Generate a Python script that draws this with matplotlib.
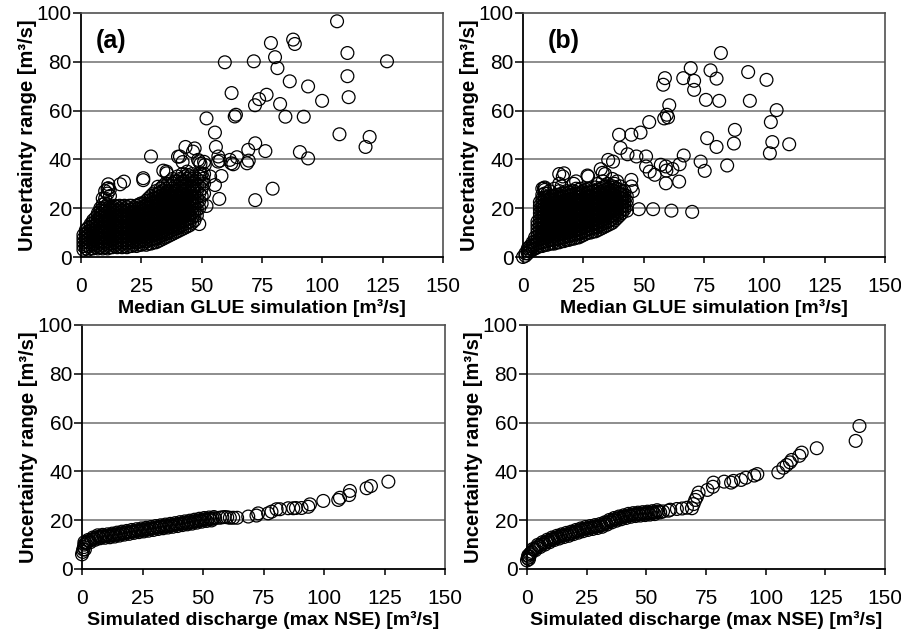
#!/usr/bin/env python3
"""Uncertainty range vs. discharge, 2x2 scatter panels (a) and (b)."""

import matplotlib
matplotlib.use('Agg')
import matplotlib.pyplot as plt

plt.rcParams['font.family'] = ['Liberation Sans', 'DejaVu Sans']

# ---- panel (a), top: median GLUE simulation vs uncertainty range ----
# dense cloud, one list of y values per x column (x = 1, 2, ..., 51)
a_cloud_x = list(range(1, 52))
a_cloud_y = [
    [3, 4.5, 6, 7.5, 9],
    [3.5, 5, 6.5, 8, 9.5, 11],
    [3, 4.5, 6, 7.5, 9, 10.5, 12],
    [3.5, 5, 6.5, 8, 9.5, 11, 12.5, 13.5],
    [3.5, 5, 6.5, 8, 9.5, 11, 12.5, 14, 15],
    [4, 5.5, 7, 8.5, 10, 11.5, 13, 14.5, 16],
    [3.5, 5, 6.5, 8, 9.5, 11, 12.5, 14, 15.5, 17, 18],
    [4, 5.5, 7, 8.5, 10, 11.5, 13, 14.5, 16, 17.5, 19, 20],
    [3.5, 5, 6.5, 8, 9.5, 11, 12.5, 14, 15.5, 17, 18.5, 20, 21.5, 24],
    [4, 5.5, 7, 8.5, 10, 11.5, 13, 14.5, 16, 17.5, 19, 20.5, 22, 24, 27],
    [3.5, 5, 6.5, 8, 9.5, 11, 12.5, 14, 15.5, 17, 18.5, 20, 21.5, 26, 28],
    [4, 5.5, 7, 8.5, 10, 11.5, 13, 14.5, 16, 17.5, 19, 20.5, 25],
    [4, 5.5, 7, 8.5, 10, 11.5, 13, 14.5, 16, 17.5, 19, 20.5],
    [4.5, 6, 7.5, 9, 10.5, 12, 13.5, 15, 16.5, 18, 19.5, 21],
    [4, 5.5, 7, 8.5, 10, 11.5, 13, 14.5, 16, 17.5, 19, 20.5],
    [4.5, 6, 7.5, 9, 10.5, 12, 13.5, 15, 16.5, 18, 19.5, 21],
    [4, 5.5, 7, 8.5, 10, 11.5, 13, 14.5, 16, 17.5, 19, 20.5],
    [4.5, 6, 7.5, 9, 10.5, 12, 13.5, 15, 16.5, 18, 19.5, 21],
    [4, 5.5, 7, 8.5, 10, 11.5, 13, 14.5, 16, 17.5, 19, 20.5],
    [4.5, 6, 7.5, 9, 10.5, 12, 13.5, 15, 16.5, 18, 19.5, 21],
    [4.5, 6, 7.5, 9, 10.5, 12, 13.5, 15, 16.5, 18, 19.5, 21],
    [5, 6.5, 8, 9.5, 11, 12.5, 14, 15.5, 17, 18.5, 20],
    [4.5, 6, 7.5, 9, 10.5, 12, 13.5, 15, 16.5, 18, 19.5, 21],
    [5, 6.5, 8, 9.5, 11, 12.5, 14, 15.5, 17, 18.5, 20, 21.5],
    [5, 6.5, 8, 9.5, 11, 12.5, 14, 15.5, 17, 18.5, 20, 22],
    [5.5, 7, 8.5, 10, 11.5, 13, 14.5, 16, 17.5, 19, 20.5, 22],
    [5, 6.5, 8, 9.5, 11, 12.5, 14, 15.5, 17, 18.5, 20, 21.5, 23],
    [5.5, 7, 8.5, 10, 11.5, 13, 14.5, 16, 17.5, 19, 20.5, 22, 24],
    [5.5, 7, 8.5, 10, 11.5, 13, 14.5, 16, 17.5, 19, 20.5, 22, 23.5, 25],
    [6, 7.5, 9, 10.5, 12, 13.5, 15, 16.5, 18, 19.5, 21, 22.5, 24, 26],
    [6, 7.5, 9, 10.5, 12, 13.5, 15, 16.5, 18, 19.5, 21, 22.5, 24, 25.5, 27],
    [6.5, 8, 9.5, 11, 12.5, 14, 15.5, 17, 18.5, 20, 21.5, 23, 24.5, 26],
    [7, 8.5, 10, 11.5, 13, 14.5, 16, 17.5, 19, 20.5, 22, 23.5, 25, 26.5, 28],
    [7.5, 9, 10.5, 12, 13.5, 15, 16.5, 18, 19.5, 21, 22.5, 24, 25.5, 27, 29],
    [8, 9.5, 11, 12.5, 14, 15.5, 17, 18.5, 20, 21.5, 23, 24.5, 26, 28, 30],
    [8.5, 10, 11.5, 13, 14.5, 16, 17.5, 19, 20.5, 22, 23.5, 25, 27, 30],
    [9, 10.5, 12, 13.5, 15, 16.5, 18, 19.5, 21, 22.5, 24, 25.5, 27, 29, 31],
    [9.5, 11, 12.5, 14, 15.5, 17, 18.5, 20, 21.5, 23, 24.5, 26, 28, 30, 32],
    [10, 11.5, 13, 14.5, 16, 17.5, 19, 20.5, 22, 23.5, 25, 27, 29, 31],
    [10.5, 12, 13.5, 15, 16.5, 18, 19.5, 21, 22.5, 24, 25.5, 27, 29, 31, 33],
    [11, 12.5, 14, 15.5, 17, 18.5, 20, 21.5, 23, 24.5, 26, 28, 30, 32],
    [11.5, 13, 14.5, 16, 17.5, 19, 20.5, 22, 23.5, 25, 27, 29, 31, 34],
    [12, 13.5, 15, 16.5, 18, 19.5, 21, 22.5, 24, 25.5, 27, 29, 31, 33],
    [12.5, 14, 15.5, 17, 18.5, 20, 21.5, 23, 24.5, 26, 28, 30, 32, 35],
    [13, 14.5, 16, 17.5, 19, 20.5, 22, 23.5, 25, 27, 29, 31, 33],
    [14, 16, 18, 20, 22, 24, 26, 28, 30, 32, 34],
    [15, 17, 19, 21, 23, 25, 27, 29, 31, 33],
    [17, 19.5, 22, 24.5, 27, 29.5, 32],
    [20, 23, 26, 29, 33],
    [22, 25, 28, 31, 34],
    [26, 30, 34],
]
# scattered points outside the cloud
a_out_x = [106.1, 126.8, 110.4, 110.4, 110.9, 107.1, 119.6, 117.9, 90.7, 94.1,
           99.9, 94.1, 92.3, 86.5, 84.7, 82.5, 81.4, 80.4, 78.7, 87.9, 88.6,
           71.6, 59.6, 62.4, 63.7, 64.2, 73.8, 76.9, 72.1, 72.2, 69.3, 76.4,
           68.8, 79.4, 72.2, 52.0, 55.5, 55.9, 43.3, 29.0, 61.7, 63.1, 64.6,
           51.0, 49.5, 49.0, 57.3, 52.0, 49.0, 41.0, 42.1, 56.9, 57.6, 58.2,
           55.5, 49.3, 50.7, 17.8, 16.2, 25.8, 25.8, 34.1, 35.5, 11.3, 11.3,
           11.9, 35.4, 31.9, 40.2, 47.1, 46.4, 56.8, 62.3, 48.5, 51.3, 44.3,
           69.5, 53.5]
a_out_y = [96.6, 80.2, 83.6, 74.1, 65.5, 50.3, 49.2, 45.1, 43.0, 40.4,
           64.0, 69.9, 57.5, 72.0, 57.5, 62.7, 77.4, 81.9, 87.7, 89.1, 87.3,
           80.2, 79.8, 67.2, 57.6, 58.3, 64.7, 66.5, 62.2, 46.6, 43.9, 43.4,
           38.4, 28.0, 23.3, 56.8, 51.0, 45.1, 45.1, 41.2, 39.8, 38.0, 40.9,
           39.0, 38.2, 39.2, 23.8, 20.9, 13.5, 41.2, 38.9, 41.2, 39.5, 33.2,
           29.5, 34.3, 32.1, 30.9, 29.8, 32.3, 31.5, 35.4, 34.3, 29.8, 28.2,
           27.5, 35.0, 28.8, 41.1, 44.5, 43.2, 39.1, 38.4, 39.8, 37.7, 33.6,
           39.5, 33.0]

# ---- panel (b), top ----
b_cloud_x = list(range(0, 44))
b_cloud_y = [
    [0],
    [0.5, 1.5],
    [1.5, 2.5, 3.5],
    [2.5, 3.5, 4.5],
    [3, 4, 5, 6],
    [3.5, 5, 6.5, 8],
    [4, 5.5, 7, 8.5, 10, 11.5, 13, 14.5],
    [4.5, 6, 7.5, 9, 10.5, 12, 13.5, 15, 16.5, 18, 19.5, 21, 22.5],
    [4.5, 6, 7.5, 9, 10.5, 12, 13.5, 15, 16.5, 18, 19.5, 21, 22.5, 24, 25.5, 28],
    [5, 6.5, 8, 9.5, 11, 12.5, 14, 15.5, 17, 18.5, 20, 21.5, 23, 24.5, 26, 28.5],
    [5, 6.5, 8, 9.5, 11, 12.5, 14, 15.5, 17, 18.5, 20, 21.5, 23, 24.5, 26],
    [5.5, 7, 8.5, 10, 11.5, 13, 14.5, 16, 17.5, 19, 20.5, 22, 23.5, 25, 27],
    [5.5, 7, 8.5, 10, 11.5, 13, 14.5, 16, 17.5, 19, 20.5, 22, 23.5, 25],
    [5.5, 7, 8.5, 10, 11.5, 13, 14.5, 16, 17.5, 19, 20.5, 22, 23.5, 25, 28],
    [6, 7.5, 9, 10.5, 12, 13.5, 15, 16.5, 18, 19.5, 21, 22.5, 24, 25.5],
    [6, 7.5, 9, 10.5, 12, 13.5, 15, 16.5, 18, 19.5, 21, 22.5, 24, 25.5, 27, 30, 34],
    [6.5, 8, 9.5, 11, 12.5, 14, 15.5, 17, 18.5, 20, 21.5, 23, 24.5, 26, 29],
    [6.5, 8, 9.5, 11, 12.5, 14, 15.5, 17, 18.5, 20, 21.5, 23, 24.5, 26],
    [7, 8.5, 10, 11.5, 13, 14.5, 16, 17.5, 19, 20.5, 22, 23.5, 25, 27],
    [7, 8.5, 10, 11.5, 13, 14.5, 16, 17.5, 19, 20.5, 22, 23.5, 25, 26.5],
    [7.5, 9, 10.5, 12, 13.5, 15, 16.5, 18, 19.5, 21, 22.5, 24, 25.5, 27],
    [7.5, 9, 10.5, 12, 13.5, 15, 16.5, 18, 19.5, 21, 22.5, 24, 25.5, 27, 30],
    [8, 9.5, 11, 12.5, 14, 15.5, 17, 18.5, 20, 21.5, 23, 24.5, 26, 28, 31],
    [8, 9.5, 11, 12.5, 14, 15.5, 17, 18.5, 20, 21.5, 23, 24.5, 26, 27.5],
    [8.5, 10, 11.5, 13, 14.5, 16, 17.5, 19, 20.5, 22, 23.5, 25, 26.5, 28],
    [9, 10.5, 12, 13.5, 15, 16.5, 18, 19.5, 21, 22.5, 24, 25.5, 27],
    [9.5, 11, 12.5, 14, 15.5, 17, 18.5, 20, 21.5, 23, 24.5, 26, 27.5],
    [10, 11.5, 13, 14.5, 16, 17.5, 19, 20.5, 22, 23.5, 25, 26.5, 28, 33],
    [10, 11.5, 13, 14.5, 16, 17.5, 19, 20.5, 22, 23.5, 25, 26.5, 28],
    [10.5, 12, 13.5, 15, 16.5, 18, 19.5, 21, 22.5, 24, 25.5, 27],
    [10.5, 12, 13.5, 15, 16.5, 18, 19.5, 21, 22.5, 24, 25.5, 27, 28.5],
    [11, 12.5, 14, 15.5, 17, 18.5, 20, 21.5, 23, 24.5, 26, 27.5, 30],
    [11.5, 13, 14.5, 16, 17.5, 19, 20.5, 22, 23.5, 25, 26.5, 28],
    [12, 13.5, 15, 16.5, 18, 19.5, 21, 22.5, 24, 25.5, 27, 28.5, 31],
    [12.5, 14, 15.5, 17, 18.5, 20, 21.5, 23, 24.5, 26, 27.5, 29, 34],
    [13, 14.5, 16, 17.5, 19, 20.5, 22, 23.5, 25, 26.5, 28, 30],
    [13.5, 15, 16.5, 18, 19.5, 21, 22.5, 24, 25.5, 27, 28.5],
    [14, 15.5, 17, 18.5, 20, 21.5, 23, 24.5, 26, 27.5, 29, 32],
    [15, 16.5, 18, 19.5, 21, 22.5, 24, 25.5, 27, 28.5, 30],
    [16, 17.5, 19, 20.5, 22, 23.5, 25, 26.5, 28, 31],
    [17, 18.5, 20, 21.5, 23, 24.5, 26, 27.5, 29],
    [18, 19.5, 21, 22.5, 24, 25.5, 27],
    [19.5, 21, 22.5, 24, 25.5, 27],
    [21, 23, 25],
]
b_out_x = [82.0, 69.5, 58.8, 58.1, 66.4, 70.9, 70.9, 77.7, 80.2, 75.8, 81.3,
           93.3, 100.9, 94.0, 105.1, 102.7, 103.3, 102.3, 110.3, 87.8, 87.4,
           76.3, 80.2, 84.6, 73.6, 75.3, 66.6, 64.9, 64.7, 61.9, 52.3, 58.5,
           60.1, 60.6, 59.6, 48.7, 44.9, 39.8, 40.4, 43.3, 47.0, 51.0, 51.0,
           52.5, 54.6, 57.1, 59.2, 59.4, 59.2, 43.1, 48.0, 53.9, 61.5, 70.1,
           35.3, 37.3, 32.2, 33.0, 17.0, 16.5, 26.7, 8.7, 9.0, 44.9, 44.9, 45.5]
b_out_y = [83.6, 77.4, 73.3, 70.6, 73.3, 72.2, 68.5, 76.5, 73.1, 64.4, 64.0,
           75.8, 72.6, 64.0, 60.2, 55.3, 47.1, 42.5, 46.2, 52.1, 46.5,
           48.7, 45.1, 37.5, 39.1, 35.3, 41.6, 38.0, 30.9, 36.1, 55.3, 56.8,
           57.2, 62.2, 58.3, 51.0, 50.1, 50.1, 44.7, 42.1, 41.2, 41.2, 37.1,
           35.0, 33.7, 37.8, 37.1, 35.4, 30.2, 19.0, 19.6, 19.6, 19.0, 18.5,
           39.8, 39.1, 36.0, 34.5, 34.3, 33.0, 33.4, 28.2, 27.5, 31.6, 28.9, 27.0]

# ---- bottom panels: simulated discharge (max NSE) vs uncertainty range ----
c_x = [0, 0.3, 0.5, 0.8, 1, 1, 1.2, 1.5,
       2, 3, 4, 5, 6, 7, 8, 9, 10, 11, 12, 13, 14, 15, 16, 17, 18, 19, 20,
       21, 22, 23, 24, 25, 26, 27, 28, 29, 30, 31, 32, 33, 34, 35, 36, 37,
       38, 39, 40, 41, 42, 43, 44, 45, 46, 47, 48, 49, 50, 51, 52, 53, 54, 55,
       56.9, 58, 59, 60, 61.1, 62.5, 64.1, 68.7, 72.1, 72.8, 76.9, 78.3, 80.4,
       81.8, 85.2, 87.3, 88.4, 90.7, 93.5, 94.2, 99.7, 105.9, 106.6, 110.4,
       110.7, 117.6, 119.4, 126.6]
c_y = [6, 7, 8, 9, 10, 11, 8, 10.5,
       11.0, 11.5, 12.0, 12.5, 13.0, 13.2, 13.3, 13.4, 13.5, 13.6, 13.8, 13.9,
       14.1, 14.3, 14.5, 14.7, 14.9, 15.0, 15.2, 15.4, 15.5, 15.7, 15.8, 16.0,
       16.2, 16.3, 16.5, 16.6, 16.8, 17.0, 17.1, 17.3, 17.4, 17.6, 17.8, 17.9,
       18.1, 18.2, 18.4, 18.6, 18.7, 18.9, 19.0, 19.2, 19.4, 19.6, 19.8, 20.0,
       20.2, 20.3, 20.4, 20.5, 20.6, 20.8,
       21.0, 21.2, 21.3, 21.2, 21.0, 21.0, 21.0, 21.5, 21.9, 22.8, 22.8, 23.5,
       24.5, 24.5, 24.9, 24.9, 25.0, 25.0, 25.5, 26.5, 27.9, 28.3, 29.2, 30.3,
       32.0, 33.1, 34.0, 35.8]
# second row of points in the dense part of the band
c2_x = [2.5, 3.5, 4.5, 5.5, 6.5, 7.5, 8.5, 9.5, 10.5, 11.5, 12.5, 13.5, 14.5,
        15.5, 16.5, 17.5, 18.5, 19.5, 20.5, 21.5, 22.5, 23.5, 24.5, 25.5, 26.5,
        27.5, 28.5, 29.5, 30.5, 31.5, 32.5, 33.5, 34.5, 35.5, 36.5, 37.5, 38.5,
        39.5, 40.5, 41.5, 42.5, 43.5, 44.5, 45.5, 46.5, 47.5, 48.5, 49.5, 50.5,
        51.5, 52.5, 53.5, 54.5]
c2_y = [11.9, 11.0, 12.9, 12.0, 13.8, 12.6, 14.0, 12.8, 14.2, 13.0, 14.5, 13.3,
        14.9, 13.7, 15.3, 14.1, 15.6, 14.4, 16.0, 14.8, 16.3, 15.1, 16.6, 15.4,
        16.9, 15.7, 17.2, 16.0, 17.6, 16.4, 17.9, 16.7, 18.2, 17.0, 18.5, 17.3,
        18.8, 17.6, 19.2, 18.0, 19.5, 18.3, 19.8, 18.6, 20.2, 19.0, 20.6, 19.4,
        20.9, 19.7, 21.1, 19.9, 21.3]

d_x = [0, 0.3, 0.5, 0.8, 1, 1.2, 1.5,
       2, 3, 4, 5, 6, 7, 8, 9, 10, 11, 12, 13, 14, 15, 16, 17, 18, 19, 20,
       21, 22, 23, 24, 25, 26, 27, 28, 29, 30, 31, 32, 33, 34, 35, 36, 37,
       38, 39, 40, 41, 42, 43, 44, 45, 46, 47, 48, 49, 50, 51, 52, 53, 54, 55,
       55.8, 57, 59.3, 60, 62.8, 65, 67, 69.1, 69.8, 70.5, 71.2, 71.9, 75.6,
       77.9, 78.1, 82.6, 85.5, 86.5, 89.7, 91.7, 95.2, 96.5, 105.3, 107.4,
       108.8, 110.2, 110.9, 114.1, 115.1, 121.4, 137.7, 139.3]
d_y = [3.5, 4.5, 5.5, 4, 5, 6, 6.5,
       7.0, 8.0, 8.8, 9.5, 10.0, 10.5, 11.0, 11.5, 12.0, 12.4, 12.8, 13.1, 13.4,
       13.7, 14.0, 14.2, 14.5, 14.8, 15.2, 15.5, 15.8, 16.1, 16.4, 16.6, 16.8,
       17.0, 17.2, 17.4, 17.6, 17.9, 18.2, 18.7, 19.2, 19.6, 20.0, 20.4, 20.7,
       21.0, 21.2, 21.5, 21.8, 22.0, 22.2, 22.3, 22.4, 22.5, 22.6, 22.7, 22.8,
       22.9, 23.0, 23.1, 23.3, 23.5,
       23.2, 23.6, 23.9, 24.3, 24.6, 24.8, 25.1, 24.9, 26.6, 28.3, 29.6, 31.3,
       32.4, 33.7, 35.4, 35.8, 35.4, 36.1, 36.5, 37.4, 38.3, 38.9, 39.6, 41.5,
       42.6, 43.7, 44.7, 46.4, 47.7, 49.5, 52.5, 58.6]
d2_x = c2_x
d2_y = [8.2, 7.7, 9.9, 9.0, 11.0, 10.0, 12.0, 11.0, 12.9, 11.9, 13.6, 12.5,
        14.2, 13.1, 14.8, 13.6, 15.3, 14.3, 16.0, 14.9, 16.6, 15.5, 17.2, 16.0,
        17.6, 16.4, 18.0, 16.8, 18.4, 17.3, 19.1, 18.2, 20.1, 19.1, 20.9, 19.8,
        21.5, 20.4, 22.0, 20.9, 22.6, 21.4, 22.9, 21.7, 23.1, 21.9, 23.3, 22.1,
        23.5, 22.3, 23.7, 22.5, 24.1]

X_TICKS = [0, 25, 50, 75, 100, 125, 150]
Y_TICKS = [0, 20, 40, 60, 80, 100]
YLABEL = 'Uncertainty range [m³/s]'


def flatten(cols_x, cols_y, extra_x, extra_y):
    xs, ys = [], []
    for x, col in zip(cols_x, cols_y):
        for y in col:
            xs.append(x)
            ys.append(y)
    return xs + list(extra_x), ys + list(extra_y)


def style_axes(ax, xlabel):
    ax.set_xlim(0, 150)
    ax.set_ylim(0, 100)
    ax.set_xticks(X_TICKS)
    ax.set_yticks(Y_TICKS)
    for y in Y_TICKS[1:-1]:
        ax.axhline(y, color='#7a7a7a', lw=1.2, zorder=0)
    for side in ['left', 'bottom']:
        ax.spines[side].set_color('black')
        ax.spines[side].set_linewidth(1.3)
    for side in ['top', 'right']:
        ax.spines[side].set_color('#505050')
        ax.spines[side].set_linewidth(1.2)
    ax.tick_params(axis='x', direction='out', length=4.5, width=1.1,
                   pad=10, labelsize=15)
    ax.tick_params(axis='y', direction='out', length=5.5, width=1.1,
                   pad=1, labelsize=15)
    ax.set_xlabel(xlabel, fontsize=14, fontweight='bold', labelpad=2)
    ax.set_ylabel(YLABEL, fontsize=14.5, fontweight='bold', labelpad=0)


def draw(ax, xs, ys):
    ax.scatter(xs, ys, s=85, facecolors='none', edgecolors='black',
               linewidths=0.9, clip_on=False, zorder=3)


fig = plt.figure(figsize=(9.01, 6.38), dpi=100)
W, H = 901.0, 638.0
ax_a = fig.add_axes([81 / W, 1 - 257 / H, 362 / W, 244 / H])
ax_b = fig.add_axes([523 / W, 1 - 257 / H, 362 / W, 244 / H])
ax_c = fig.add_axes([82 / W, 1 - 569 / H, 363 / W, 244 / H])
ax_d = fig.add_axes([527 / W, 1 - 569 / H, 358 / W, 244 / H])

xa, ya = flatten(a_cloud_x, a_cloud_y, a_out_x, a_out_y)
xb, yb = flatten(b_cloud_x, b_cloud_y, b_out_x, b_out_y)
draw(ax_a, xa, ya)
draw(ax_b, xb, yb)
draw(ax_c, c_x + c2_x, c_y + c2_y)
draw(ax_d, d_x + d2_x, d_y + d2_y)

style_axes(ax_a, 'Median GLUE simulation [m³/s]')
style_axes(ax_b, 'Median GLUE simulation [m³/s]')
style_axes(ax_c, 'Simulated discharge (max NSE) [m³/s]')
style_axes(ax_d, 'Simulated discharge (max NSE) [m³/s]')

ax_a.text(12.4, 88.5, '(a)', fontsize=18, fontweight='bold', ha='center', va='center')
ax_b.text(17, 88.5, '(b)', fontsize=18, fontweight='bold', ha='center', va='center')

fig.savefig('out.png', dpi=100)
